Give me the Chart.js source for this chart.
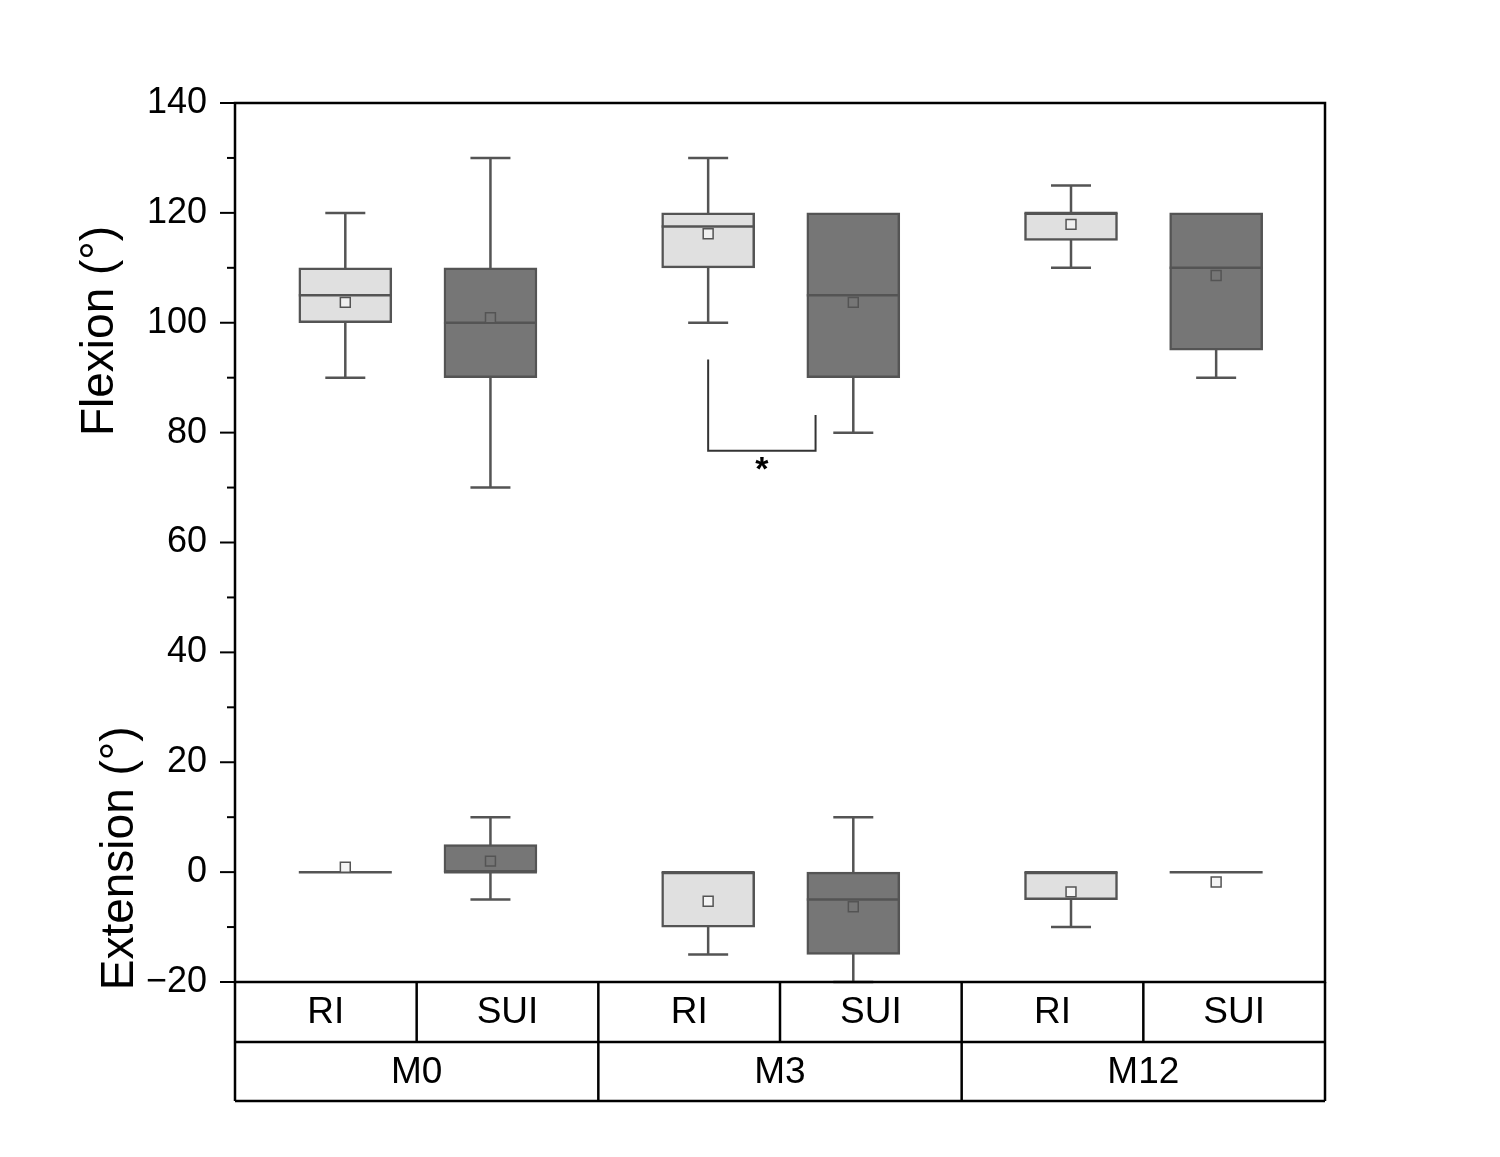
<!DOCTYPE html>
<html>
<head>
<meta charset="utf-8">
<script src="https://cdn.jsdelivr.net/npm/chart.js@4.4.1/dist/chart.umd.min.js"></script>
<style>
  html, body { margin: 0; padding: 0; background: #ffffff; }
  #wrap { width: 1500px; height: 1157px; }
</style>
</head>
<body>
<div id="wrap"><canvas id="c" width="1500" height="1157"></canvas></div>
<script>
// ---- Data ----
const groups = ['M0', 'M3', 'M12'];
const subgroups = ['RI', 'SUI'];
const positions = [1, 2, 3.5, 4.5, 6, 7];
const groupKind = ['RI', 'SUI', 'RI', 'SUI', 'RI', 'SUI'];

const flexMin    = [90, 70, 100, 80, 110, 90];
const flexQ1     = [100, 90, 110, 90, 115, 95];
const flexMedian = [105, 100, 117.5, 105, 120, 110];
const flexQ3     = [110, 110, 120, 120, 120, 120];
const flexMax    = [120, 130, 130, 120, 125, 120];
const flexMean   = [103.7, 100.9, 116.2, 103.7, 117.9, 108.6];

const extMin    = [0, -5, -15, -20, -10, 0];
const extQ1     = [0, 0, -10, -15, -5, 0];
const extMedian = [0, 0, 0, -5, 0, 0];
const extQ3     = [0, 5, 0, 0, 0, 0];
const extMax    = [0, 10, 0, 10, 0, 0];
const extMean   = [0.9, 2.0, -5.3, -6.3, -3.6, -1.8];

const yTicks = [-20, 0, 20, 40, 60, 80, 100, 120, 140];
// significance bracket (M3: RI vs SUI)
const sigX = [3.5, 4.24];
const sigY = [93.3, 76.7, 83.2];
const sigLabel = '*';

// ---- Styles ----
const LIGHT = '#e0e0e0';
const DARK = '#767676';
const EDGE = '#545454';
const FONT = "'Liberation Sans', Arial, sans-serif";
const fillFor = k => (k === 'RI' ? LIGHT : DARK);

const boxPlugin = {
  id: 'boxParts',
  beforeDatasetsDraw(chart) {
    const ctx = chart.ctx, xs = chart.scales.x, ys = chart.scales.y;
    ctx.save();
    ctx.strokeStyle = EDGE;
    ctx.lineWidth = 2.5;
    const sets = [[flexMin, flexQ1, flexQ3, flexMax], [extMin, extQ1, extQ3, extMax]];
    sets.forEach(([mn, q1, q3, mx]) => {
      positions.forEach((p, i) => {
        const px = xs.getPixelForValue(p);
        const y1 = ys.getPixelForValue(mn[i]);
        const y2 = ys.getPixelForValue(mx[i]);
        ctx.beginPath();
        ctx.moveTo(px, y1); ctx.lineTo(px, y2);
        if (mn[i] < q1[i]) { ctx.moveTo(px - 20, y1); ctx.lineTo(px + 20, y1); }
        if (mx[i] > q3[i]) { ctx.moveTo(px - 20, y2); ctx.lineTo(px + 20, y2); }
        ctx.stroke();
      });
    });
    ctx.restore();
  },
  afterDatasetDraw(chart, args) {
    if (args.meta.type !== 'bar') return;
    const ctx = chart.ctx, xs = chart.scales.x, ys = chart.scales.y;
    const med = args.index === 0 ? flexMedian : extMedian;
    ctx.save();
    ctx.strokeStyle = EDGE;
    ctx.lineWidth = 2.5;
    positions.forEach((p, i) => {
      const px = xs.getPixelForValue(p);
      const py = ys.getPixelForValue(med[i]);
      ctx.beginPath();
      ctx.moveTo(px - 46.5, py); ctx.lineTo(px + 46.5, py);
      ctx.stroke();
    });
    ctx.restore();
  },
  afterDraw(chart) {
    const ctx = chart.ctx, xs = chart.scales.x, ys = chart.scales.y;
    const a = chart.chartArea;
    ctx.save();
    // frame
    ctx.strokeStyle = '#000';
    ctx.lineWidth = 2.5;
    ctx.strokeRect(a.left, a.top, a.right - a.left, a.bottom - a.top);
    // y ticks (major every 20, minor every 10)
    ctx.lineWidth = 2;
    for (let v = -20; v <= 140; v += 10) {
      const py = ys.getPixelForValue(v);
      const len = (v % 20 === 0) ? 15 : 8;
      ctx.beginPath();
      ctx.moveTo(a.left - len, py); ctx.lineTo(a.left, py);
      ctx.stroke();
    }
    // axis titles
    ctx.fillStyle = '#000';
    ctx.font = '46px ' + FONT;
    ctx.textAlign = 'center';
    ctx.textBaseline = 'middle';
    ctx.save();
    ctx.translate(100, ys.getPixelForValue(98.5));
    ctx.rotate(-Math.PI / 2);
    ctx.fillText('Flexion (°)', 0, 0);
    ctx.restore();
    ctx.save();
    ctx.translate(120, ys.getPixelForValue(2.5));
    ctx.rotate(-Math.PI / 2);
    ctx.fillText('Extension (°)', 0, 0);
    ctx.restore();

    // category table below plot
    const row1 = a.bottom + 60, row2 = a.bottom + 119;
    const nG = groups.length, nS = subgroups.length;
    const gw = (a.right - a.left) / nG, sw = gw / nS;
    ctx.strokeStyle = '#000';
    ctx.lineWidth = 2.5;
    ctx.beginPath();
    ctx.moveTo(a.left, row1); ctx.lineTo(a.right, row1);
    ctx.moveTo(a.left, row2); ctx.lineTo(a.right, row2);
    for (let g = 0; g <= nG; g++) {
      const gx = a.left + g * gw;
      ctx.moveTo(gx, a.bottom); ctx.lineTo(gx, row2);
    }
    for (let g = 0; g < nG; g++) {
      for (let s = 1; s < nS; s++) {
        const sx = a.left + g * gw + s * sw;
        ctx.moveTo(sx, a.bottom); ctx.lineTo(sx, row1);
      }
    }
    ctx.stroke();
    ctx.font = '37px ' + FONT;
    ctx.fillStyle = '#000';
    ctx.textAlign = 'center';
    ctx.textBaseline = 'middle';
    for (let g = 0; g < nG; g++) {
      for (let s = 0; s < nS; s++) {
        ctx.fillText(subgroups[s], a.left + g * gw + (s + 0.5) * sw, (a.bottom + row1) / 2 + 1);
      }
      ctx.fillText(groups[g], a.left + (g + 0.5) * gw, (row1 + row2) / 2 + 1);
    }

    // significance bracket
    const bx1 = xs.getPixelForValue(sigX[0]), bx2 = xs.getPixelForValue(sigX[1]);
    const by0 = ys.getPixelForValue(sigY[0]), by1 = ys.getPixelForValue(sigY[1]), by2 = ys.getPixelForValue(sigY[2]);
    ctx.strokeStyle = '#333';
    ctx.lineWidth = 2;
    ctx.beginPath();
    ctx.moveTo(bx1, by0); ctx.lineTo(bx1, by1); ctx.lineTo(bx2, by1); ctx.lineTo(bx2, by2);
    ctx.stroke();
    ctx.font = 'bold 34px ' + FONT;
    ctx.fillStyle = '#000';
    ctx.textBaseline = 'top';
    ctx.fillText(sigLabel, (bx1 + bx2) / 2, by1 + 3);
    ctx.restore();
  }
};

const boxData = (q1, q3) => positions.map((p, i) => ({ x: p, y: [q1[i], q3[i]] }));
const meanData = m => positions.map((p, i) => ({ x: p, y: m[i] }));
const barFill = groupKind.map(fillFor);
const flexMeanFill = groupKind.map(k => (k === 'RI' ? '#f0f0f0' : DARK));
// mean markers outside a box are drawn hollow (white)
const extMeanFill = groupKind.map((k, i) =>
  (extQ3[i] - extQ1[i] === 0 || k === 'RI') ? '#f4f4f4' : DARK);

new Chart(document.getElementById('c'), {
  type: 'bar',
  data: {
    datasets: [
      { type: 'bar', data: boxData(flexQ1, flexQ3), backgroundColor: barFill, borderColor: EDGE,
        borderWidth: 2.5, borderSkipped: false, barThickness: 93, grouped: false, order: 2 },
      { type: 'bar', data: boxData(extQ1, extQ3), backgroundColor: barFill, borderColor: EDGE,
        borderWidth: 2.5, borderSkipped: false, barThickness: 93, grouped: false, order: 2 },
      { type: 'scatter', data: meanData(flexMean), pointStyle: 'rect', pointRadius: 7,
        backgroundColor: flexMeanFill, borderColor: EDGE, borderWidth: 1.5, order: 1 },
      { type: 'scatter', data: meanData(extMean), pointStyle: 'rect', pointRadius: 7,
        backgroundColor: extMeanFill, borderColor: EDGE, borderWidth: 1.5, order: 1 }
    ]
  },
  options: {
    responsive: false,
    animation: false,
    devicePixelRatio: 1,
    layout: { padding: { left: 0, top: 103, right: 175, bottom: 175 } },
    plugins: { legend: { display: false }, tooltip: { enabled: false } },
    scales: {
      x: { type: 'linear', min: 0.24, max: 7.75, display: false, offset: false },
      y: {
        type: 'linear', min: -20, max: 140,
        afterFit(scale) { scale.width = 235; },
        afterBuildTicks(scale) { scale.ticks = yTicks.map(v => ({ value: v })); },
        grid: { display: false, drawTicks: false },
        border: { display: false },
        ticks: {
          padding: 28,
          color: '#000',
          font: { family: FONT, size: 36 },
          callback: v => (v < 0 ? '\u2212' + Math.abs(v) : String(v))
        }
      }
    }
  },
  plugins: [boxPlugin]
});
</script>
</body>
</html>
